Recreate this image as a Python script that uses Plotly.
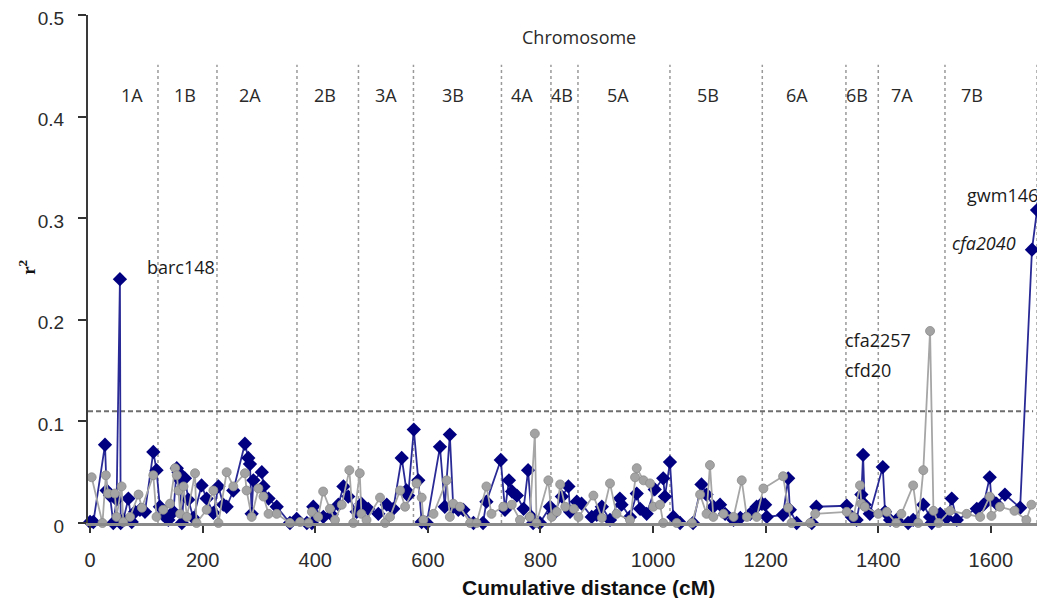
import plotly.graph_objects as go

# ---------------- data ----------------
blue_x = [0, 5.8, 26.5, 29.4, 35.3, 41.2, 47.2, 53, 54.3, 59, 68, 74, 80, 88.6, 97.5, 112.3, 118, 124, 130, 139,
          148, 154, 157, 160, 163, 168.5, 174.5, 183.4, 198, 207, 219, 228, 236.7, 242.6, 254.4, 275, 281, 284, 287, 290,
          305, 308, 317, 331.5, 355, 367, 385, 394, 396.5, 414.3, 429, 441, 450, 458.6, 473.5, 482, 494, 512, 527, 538.6,
          553.5, 562, 565, 575, 583, 589, 598, 621.5, 630, 639, 645, 654, 663, 681, 698, 704, 729.5, 737, 744, 749.5,
          758, 770, 778, 784, 787, 799, 817, 823, 838, 849.6, 852.6, 864.5, 873, 891, 900, 909, 923.5, 941, 944, 959,
          971, 977, 988.6, 1003, 1018, 1021, 1030, 1036, 1048, 1071, 1086, 1095, 1107, 1119, 1128, 1143, 1155, 1172.5, 1184, 1193,
          1199, 1202, 1231, 1240, 1243, 1255, 1282, 1290, 1344, 1353, 1361.5, 1370, 1373, 1376, 1385, 1408, 1412, 1421, 1432.6, 1453,
          1462, 1480, 1492, 1495, 1510, 1521.6, 1530.5, 1539.5, 1575, 1587, 1598, 1601, 1610, 1625, 1652, 1673, 1682]
blue_y = [0.001, 0.001, 0.077, 0.032, 0.027, 0.0, 0.023, 0.24, 0.0, 0.003, 0.024, 0.001, 0.011, 0.013, 0.011, 0.070, 0.052, 0.016, 0.008, 0.003,
          0.011, 0.054, 0.050, 0.042, 0.0, 0.044, 0.023, 0.005, 0.037, 0.024, 0.010, 0.036, 0.018, 0.016, 0.032, 0.078, 0.064, 0.058, 0.009, 0.042,
          0.050, 0.036, 0.024, 0.016, 0.0, 0.004, 0.0, 0.0, 0.016, 0.006, 0.008, 0.018, 0.036, 0.026, 0.011, 0.019, 0.014, 0.009, 0.018, 0.014,
          0.064, 0.032, 0.027, 0.092, 0.042, 0.001, 0.0, 0.075, 0.016, 0.087, 0.016, 0.013, 0.013, 0.0, 0.0, 0.021, 0.062, 0.013, 0.042, 0.031,
          0.027, 0.014, 0.052, 0.006, 0.0, 0.0, 0.016, 0.009, 0.026, 0.036, 0.011, 0.021, 0.019, 0.006, 0.008, 0.016, 0.003, 0.024, 0.018, 0.006,
          0.029, 0.014, 0.009, 0.033, 0.044, 0.026, 0.060, 0.006, 0.0, 0.0, 0.038, 0.028, 0.016, 0.018, 0.009, 0.003, 0.005, 0.009, 0.016, 0.019,
          0.018, 0.006, 0.008, 0.044, 0.013, 0.0, 0.0, 0.016, 0.017, 0.006, 0.003, 0.028, 0.067, 0.018, 0.009, 0.055, 0.011, 0.003, 0.003, 0.0,
          0.003, 0.018, 0.006, 0.0, 0.009, 0.005, 0.024, 0.003, 0.014, 0.018, 0.045, 0.023, 0.019, 0.028, 0.015, 0.269, 0.308]

grey_x = [2.8, 22, 28, 32, 44, 47, 56, 59, 71, 86, 92, 112.3, 118, 130, 142, 151, 154, 157, 160, 166,
          172, 186.4, 189, 207, 219, 228, 242.6, 254.4, 275, 278, 287, 299, 308, 317, 331.5, 355, 373, 388, 394, 405,
          414, 426, 435, 447, 460.5, 467.5, 479, 482, 491, 515, 524, 532.7, 550.6, 559.5, 580, 589, 592, 610, 633.4, 639,
          645, 657, 675, 686.5, 704, 713, 734, 749, 763.6, 781, 790, 793, 814, 820, 829, 835, 844, 859, 867.5, 894,
          909, 923.5, 935, 959, 968, 971, 983, 994.6, 1000.5, 1012.4, 1018, 1042, 1069, 1083.5, 1095, 1101, 1107, 1125, 1143, 1157.5,
          1166.5, 1184, 1196, 1231, 1240, 1246, 1279, 1288, 1344, 1356, 1367.5, 1370, 1376, 1400, 1415, 1432, 1441, 1462, 1471, 1480,
          1492, 1498, 1507, 1527.5, 1557, 1581, 1598, 1601, 1616, 1642, 1663, 1672]
grey_y = [0.045, 0.0, 0.047, 0.029, 0.029, 0.006, 0.036, 0.001, 0.006, 0.028, 0.015, 0.047, 0.006, 0.013, 0.019, 0.054, 0.047, 0.032, 0.009, 0.036,
          0.006, 0.049, 0.0, 0.013, 0.032, 0.0, 0.050, 0.036, 0.049, 0.032, 0.006, 0.034, 0.026, 0.009, 0.009, 0.0, 0.001, 0.0, 0.011, 0.006,
          0.031, 0.014, 0.003, 0.018, 0.052, 0.0, 0.049, 0.009, 0.003, 0.025, 0.0, 0.006, 0.032, 0.016, 0.039, 0.025, 0.003, 0.009, 0.042, 0.006,
          0.019, 0.016, 0.0, 0.0, 0.036, 0.009, 0.016, 0.018, 0.003, 0.006, 0.088, 0.0, 0.042, 0.006, 0.011, 0.038, 0.016, 0.014, 0.006, 0.027,
          0.005, 0.039, 0.009, 0.003, 0.045, 0.054, 0.042, 0.039, 0.016, 0.018, 0.0, 0.0, 0.0, 0.028, 0.009, 0.057, 0.006, 0.009, 0.006, 0.042,
          0.006, 0.006, 0.034, 0.046, 0.015, 0.0, 0.0, 0.009, 0.011, 0.006, 0.037, 0.019, 0.016, 0.009, 0.011, 0.0, 0.009, 0.037, 0.0, 0.052,
          0.189, 0.012, 0.0, 0.012, 0.009, 0.006, 0.026, 0.007, 0.016, 0.012, 0.003, 0.018]

chrom_bounds = [120.6, 225.4, 367.5, 476.7, 574.4, 730.7, 818.6, 866.6, 1030, 1194, 1342.6, 1400, 1518.5, 1682]
chrom_names = ["1A", "1B", "2A", "2B", "3A", "3B", "4A", "4B", "5A", "5B", "6A", "6B", "7A", "7B"]
chrom_label_x = [74, 168.5, 284, 417, 525.6, 644.6, 766.7, 837.7, 937.7, 1097.5, 1255.6, 1361.6, 1441.6, 1565.9]
threshold = 0.11

x_ticks = [0, 200, 400, 600, 800, 1000, 1200, 1400, 1600]
y_ticks = [0, 0.1, 0.2, 0.3, 0.4, 0.5]

# marker labels: (text, x, y, anchor, italic)
marker_labels = [
    ("barc148", 97.6, 0.252, "left", False),
    ("gwm146", 1688, 0.323, "right", False),
    ("cfa2040", 1648, 0.2756, "right", True),
    ("cfa2257", 1337, 0.180, "left", False),
    ("cfd20", 1337, 0.1506, "left", False),
]

# ---------------- figure ----------------
fig = go.Figure()

for b in chrom_bounds:
    fig.add_shape(type="line", xref="x", yref="y", x0=b, x1=b, y0=0, y1=0.451,
                  line=dict(color="#9a9a9a", width=1.5, dash="3px,3px"), layer="below")

fig.add_shape(type="line", xref="x", yref="y", x0=-3.7, x1=1675, y0=threshold, y1=threshold,
              line=dict(color="#6e6e6e", width=2, dash="5px,3px"), layer="below")

fig.add_trace(go.Scatter(
    x=blue_x, y=blue_y, mode="lines+markers", cliponaxis=False,
    line=dict(color="#2a2a96", width=1.8),
    marker=dict(symbol="diamond", size=11, color="#000080", line=dict(width=0)),
    showlegend=False))

fig.add_trace(go.Scatter(
    x=grey_x, y=grey_y, mode="lines+markers", cliponaxis=False,
    line=dict(color="#a6a6a6", width=1.8),
    marker=dict(symbol="circle", size=9, color="#a3a3a3", line=dict(width=0.8, color="#8c8c8c")),
    showlegend=False))

ann = []
ann.append(dict(text="Chromosome", x=868, y=0.478, xref="x", yref="y", showarrow=False,
                font=dict(family="Open Sans", size=18, color="#2a2a2a")))
for name, lx in zip(chrom_names, chrom_label_x):
    ann.append(dict(text=name, x=lx, y=0.421, xref="x", yref="y", showarrow=False,
                    font=dict(family="Open Sans", size=18, color="#2a2a2a")))
for txt, lx, ly, anc, it in marker_labels:
    ann.append(dict(text=("<i>%s</i>" % txt) if it else txt, x=lx, y=ly, xref="x", yref="y",
                    xanchor=anc, showarrow=False,
                    font=dict(family="Open Sans", size=18, color="#1a1a1a")))
ann.append(dict(text="<b>Cumulative distance (cM)</b>", x=0.5246, y=-0.126, xref="paper", yref="paper",
                xanchor="center", yanchor="middle",
                showarrow=False, font=dict(family="Liberation Sans", size=21, color="#111111")))
ann.append(dict(text="<b>r<sup>2</sup></b>", x=-0.064, y=0.504, xref="paper", yref="paper",
                xanchor="center", yanchor="middle",
                textangle=-90, showarrow=False, font=dict(family="Liberation Serif", size=19, color="#111111")))

# page body has an 8px margin: figure is sized/placed to compensate
fig.update_layout(
    width=1037, height=590,
    margin=dict(l=80, r=2, t=7, b=75, autoexpand=False),
    paper_bgcolor="white", plot_bgcolor="white",
    annotations=ann,
    xaxis=dict(range=[-3.7, 1692.6], tickvals=x_ticks, ticktext=[str(v) for v in x_ticks],
               showgrid=False, zeroline=False, showline=True, linecolor="#8a8a8a", linewidth=3,
               ticks="outside", ticklen=7, tickwidth=1.5, tickcolor="#333333", ticklabelstandoff=10,
               ticklabeloverflow="allow",
               tickfont=dict(family="Liberation Sans", size=20, color="#2b2b2b")),
    yaxis=dict(range=[0, 0.5], tickvals=y_ticks, ticktext=["0", "0.1", "0.2", "0.3", "0.4", "0.5"],
               showgrid=False, zeroline=False, showline=True, linecolor="#3a3a3a", linewidth=2,
               ticks="outside", ticklen=8, tickwidth=1.5, tickcolor="#333333", ticklabelstandoff=10,
               ticklabelshift=3, ticklabeloverflow="allow",
               tickfont=dict(family="Liberation Sans", size=19, color="#2b2b2b")),
)

fig.write_html("out.html")
